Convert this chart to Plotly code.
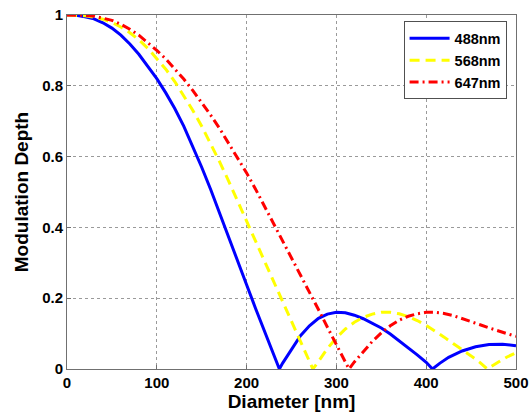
import plotly.graph_objects as go

# Modulation depth vs. particle diameter for three excitation wavelengths
d_488 = [0, 10, 20, 30, 40, 50, 60, 70, 80, 90, 100, 110, 120, 130, 140, 150, 160,
         170, 180, 190, 200, 210, 220, 230, 236.5, 240, 250, 260, 270, 280, 290, 300,
         310, 320, 330, 340, 350, 360, 370, 380, 390, 400, 407, 415, 425, 440, 455,
         470, 485, 500]
m_488 = [1.0, 0.999, 0.995, 0.989, 0.978, 0.963, 0.943, 0.918, 0.889, 0.856, 0.820,
         0.780, 0.736, 0.686, 0.630, 0.570, 0.507, 0.441, 0.374, 0.306, 0.238, 0.171,
         0.105, 0.040, 0.0, 0.016, 0.057, 0.094, 0.122, 0.143, 0.155, 0.160, 0.159,
         0.152, 0.142, 0.130, 0.116, 0.099, 0.080, 0.060, 0.040, 0.019, 0.0, 0.016,
         0.033, 0.051, 0.063, 0.069, 0.070, 0.066]

d_568 = [0, 10, 20, 30, 40, 50, 60, 70, 80, 90, 100, 110, 120, 130, 140, 150, 160,
         170, 180, 190, 200, 210, 220, 230, 240, 250, 260, 270, 273.8, 280, 290, 300,
         310, 320, 330, 340, 350, 360, 370, 380, 390, 400, 410, 420, 430, 440, 450,
         460, 468, 480, 490, 500]
m_568 = [1.0, 1.0, 0.998, 0.994, 0.988, 0.979, 0.966, 0.950, 0.930, 0.906, 0.878,
         0.847, 0.812, 0.773, 0.731, 0.686, 0.637, 0.585, 0.531, 0.474, 0.418, 0.362,
         0.306, 0.250, 0.194, 0.137, 0.080, 0.022, 0.0, 0.021, 0.058, 0.088, 0.113,
         0.132, 0.146, 0.155, 0.160, 0.160, 0.156, 0.148, 0.137, 0.123, 0.107, 0.090,
         0.072, 0.055, 0.037, 0.018, 0.0, 0.019, 0.034, 0.046]

d_647 = [0, 10, 20, 30, 40, 50, 60, 70, 80, 90, 100, 110, 120, 130, 140, 150, 160,
         170, 180, 190, 200, 210, 220, 230, 240, 250, 260, 270, 280, 290, 300, 310,
         314, 320, 330, 340, 350, 360, 370, 380, 390, 400, 410, 420, 430, 440, 450,
         460, 470, 480, 490, 500]
m_647 = [1.0, 1.0, 0.999, 0.997, 0.992, 0.985, 0.974, 0.960, 0.943, 0.922, 0.900,
         0.876, 0.849, 0.819, 0.787, 0.753, 0.717, 0.679, 0.638, 0.597, 0.554, 0.508,
         0.460, 0.411, 0.363, 0.314, 0.265, 0.217, 0.168, 0.118, 0.069, 0.020, 0.0,
         0.020, 0.050, 0.078, 0.102, 0.122, 0.138, 0.149, 0.156, 0.160, 0.160, 0.157,
         0.151, 0.143, 0.134, 0.125, 0.116, 0.108, 0.100, 0.092]

labels = ["488nm", "568nm", "647nm"]
x_ticks = [0, 100, 200, 300, 400, 500]
y_ticks = [0, 0.2, 0.4, 0.6, 0.8, 1]
y_tick_text = ["0", "0.2", "0.4", "0.6", "0.8", "1"]

FONT = "Liberation Sans, Arial, sans-serif"

fig = go.Figure()
fig.add_trace(go.Scatter(x=d_488, y=m_488, mode="lines", name=labels[0],
                         line=dict(color="#0000ff", width=3)))
fig.add_trace(go.Scatter(x=d_568, y=m_568, mode="lines", name=labels[1],
                         line=dict(color="#ffff00", width=3, dash="10px,6px")))
fig.add_trace(go.Scatter(x=d_647, y=m_647, mode="lines", name=labels[2],
                         line=dict(color="#ff0000", width=3, dash="9px,4px,2px,4px")))

axis_common = dict(
    showline=True, linecolor="#707070", linewidth=1, mirror=True,
    showgrid=True, gridcolor="#9a9a9a", gridwidth=1, griddash="dot",
    zeroline=False, ticks="inside", ticklen=4, tickcolor="#707070",
    automargin=False,
    tickfont=dict(family=FONT, size=15, color="black", weight="bold"),
)

fig.update_xaxes(range=[0, 500], tickvals=x_ticks,
                 title=dict(text="Diameter [nm]", standoff=4,
                            font=dict(family=FONT, size=19, color="black", weight="bold")),
                 **axis_common)
fig.update_yaxes(range=[0, 1], tickvals=y_ticks, ticktext=y_tick_text,
                 title=dict(text="Modulation Depth", standoff=8,
                            font=dict(family=FONT, size=19, color="black", weight="bold")),
                 **axis_common)

fig.update_layout(
    width=529, height=417,
    margin=dict(l=66.5, r=13, t=14.7, b=47.7),
    paper_bgcolor="white", plot_bgcolor="white",
    showlegend=True,
    legend=dict(x=0.979, y=0.982, xanchor="right", yanchor="top",
                bgcolor="white", bordercolor="#505050", borderwidth=1,
                font=dict(family=FONT, size=14.5, color="black", weight="bold"),
                tracegroupgap=0, itemwidth=40),
)

fig.write_html("out.html")
